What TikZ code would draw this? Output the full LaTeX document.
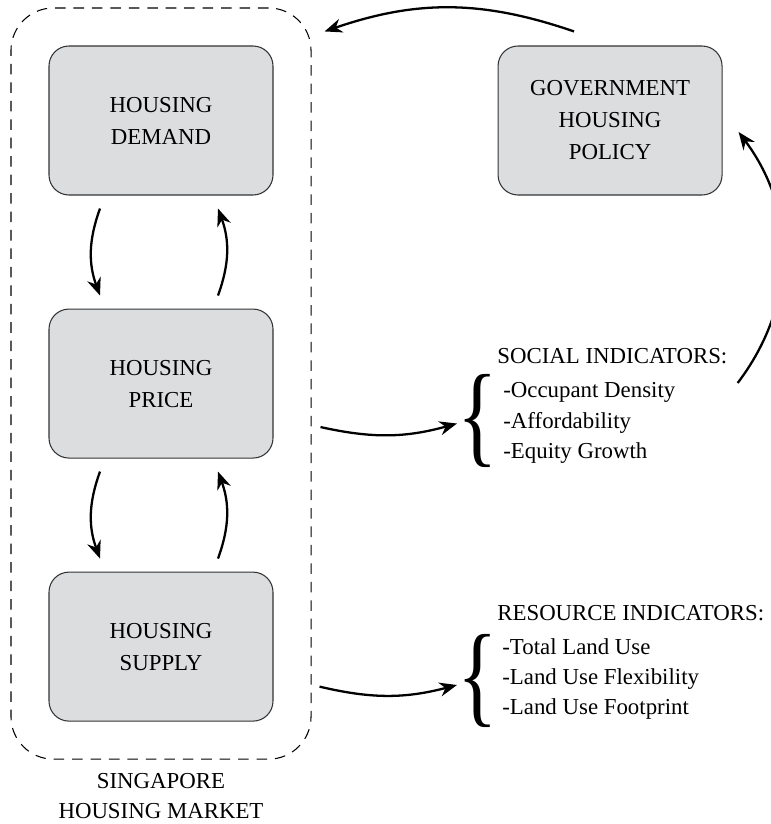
\documentclass[tikz,border=0pt]{standalone}
\usepackage{graphicx}
\usepackage{fontspec}
\setmainfont{Liberation Serif}
\usepackage{tikz}
\usetikzlibrary{arrows.meta, positioning, fit}

\definecolor{boxgray}{HTML}{DCDDDF}

\begin{document}
\begin{tikzpicture}[
    node distance=2.26cm,
    block/.style={rectangle, draw=black!80, line width=0.6pt, rounded corners=0.4cm, fill=boxgray, minimum width=4.48cm, minimum height=2.98cm, align=center, font=\fontsize{13}{18.2}\selectfont},
    market/.style={rectangle, draw=black, line width=0.6pt, dash pattern=on 6pt off 4.5pt, rounded corners=0.85cm, inner sep=0.75cm},
    listtext/.style={inner sep=0pt, align=left, font=\fontsize{13}{17.2}\selectfont},
    bracetext/.style={inner sep=0pt, font=\fontsize{13}{13}\selectfont},
    arrow/.style={-{Stealth[length=10pt, width=8pt]}, line width=1.3pt}
]
\useasboundingbox (0,0) rectangle (15.42,-16.48);

% Housing market loop
\node[block] (demand) at (3.22,-2.41) {HOUSING\\DEMAND};
\node[block, below=of demand] (price) {HOUSING\\PRICE};
\node[block, below=of price] (supply) {HOUSING\\SUPPLY};

% Policy
\node[block, right=4.48cm of demand] (gov) {GOVERNMENT\\HOUSING\\POLICY};

% Market frame
\node[market, fit=(demand)(supply)] (mkt) {};
\node[below=0.15cm of mkt, align=center, font=\fontsize{13}{17.2}\selectfont] (mktlabel) {SINGAPORE\\HOUSING MARKET};

% Social indicators
\node[listtext, anchor=north west] (socitems) at (10.06,-7.65) {-Occupant Density\\-Affordability\\-Equity Growth};
\node[listtext, anchor=base west] (sochead) at (9.94,-7.26) {SOCIAL INDICATORS:};
\node[bracetext] (socbrace) at (9.55,-8.41) {\resizebox*{23pt}{53pt}{\{}};

% Resource indicators
\node[listtext, anchor=north west] (resitems) at (10.04,-12.76) {-Total Land Use\\-Land Use Flexibility\\-Land Use Footprint};
\node[listtext, anchor=base west] (reshead) at (9.94,-12.4) {RESOURCE INDICATORS:};
\node[bracetext] (resbrace) at (9.55,-13.62) {\resizebox*{23pt}{53pt}{\{}};

% Arrows
\draw[arrow] ([xshift=-1.22cm, yshift=-0.26cm]demand.south) to[bend right=20] ([xshift=-1.22cm, yshift=0.26cm]price.north);
\draw[arrow] ([xshift=1.14cm, yshift=0.26cm]price.north) to[bend right=20] ([xshift=1.14cm, yshift=-0.26cm]demand.south);
\draw[arrow] ([xshift=-1.22cm, yshift=-0.26cm]price.south) to[bend right=20] ([xshift=-1.22cm, yshift=0.26cm]supply.north);
\draw[arrow] ([xshift=1.14cm, yshift=0.26cm]supply.north) to[bend right=20] ([xshift=1.14cm, yshift=-0.26cm]price.south);
\draw[arrow] ([xshift=0.94cm, yshift=-0.87cm]price.east) to[bend right=14] ([xshift=-0.41cm, yshift=-0.06cm]socbrace.center);
\draw[arrow] ([xshift=0.92cm, yshift=-0.8cm]supply.east) to[bend right=14] ([xshift=-0.41cm, yshift=-0.08cm]resbrace.center);
\draw[arrow] ([xshift=0.2cm, yshift=-0.4cm]sochead.base east) to[bend right=37] ([xshift=0.32cm, yshift=-0.23cm]gov.east);
\draw[arrow] ([xshift=-0.72cm, yshift=0.28cm]gov.north) to[bend right=19] ([xshift=0.26cm, yshift=-0.48cm]mkt.north east);

\end{tikzpicture}
\end{document}
